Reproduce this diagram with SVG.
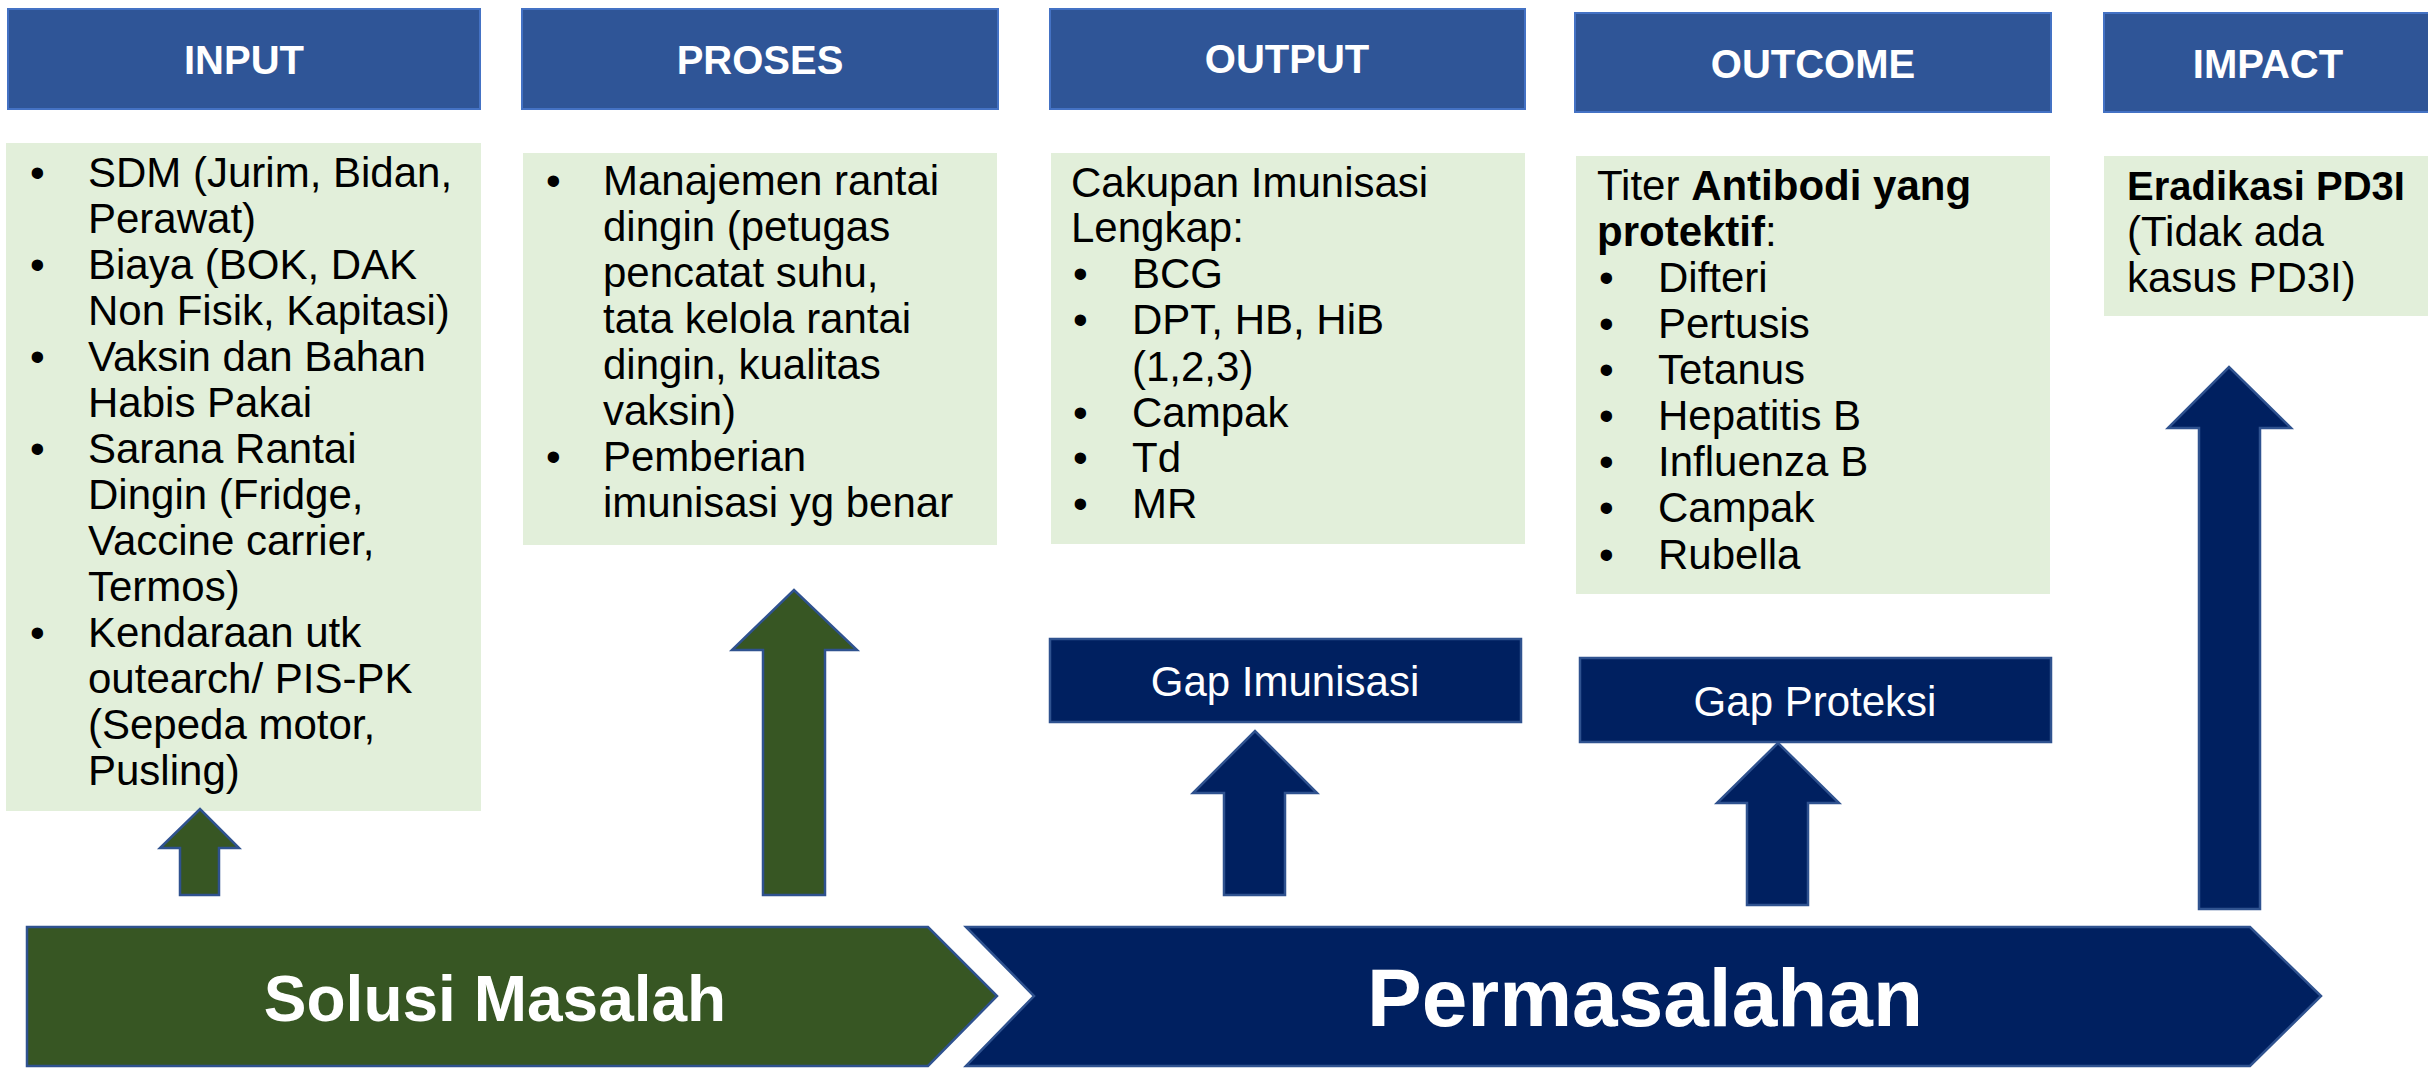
<svg xmlns="http://www.w3.org/2000/svg" width="2428" height="1074" viewBox="0 0 2428 1074">
<style>
.hdr{fill:#2F5597;stroke:#4472C4;stroke-width:2}
.hdrt{font-family:"Liberation Sans",Arial,sans-serif;font-weight:bold;font-size:40px;fill:#fff;text-anchor:middle}
.box{fill:#E2EFDA}
.t{font-family:"Liberation Sans",Arial,sans-serif;font-size:42px;fill:#000}
.b{font-weight:bold}
.navy{fill:#002060;stroke:#2F528F;stroke-width:2.5}
.green{fill:#375623;stroke:#2F528F;stroke-width:2.5}
.gapt{font-family:"Liberation Sans",Arial,sans-serif;font-size:42px;fill:#fff;text-anchor:middle}
.big{font-family:"Liberation Sans",Arial,sans-serif;font-weight:bold;fill:#fff;text-anchor:middle}
</style>

<g id="input-header"><rect class="hdr" x="8" y="9" width="472" height="100"/><text class="hdrt" x="244" y="74">INPUT</text></g>
<g id="proses-header"><rect class="hdr" x="522" y="9" width="476" height="100"/><text class="hdrt" x="760" y="74">PROSES</text></g>
<g id="output-header"><rect class="hdr" x="1050" y="9" width="475" height="100"/><text class="hdrt" x="1287" y="73">OUTPUT</text></g>
<g id="outcome-header"><rect class="hdr" x="1575" y="13" width="476" height="99"/><text class="hdrt" x="1813" y="78">OUTCOME</text></g>
<g id="impact-header"><rect class="hdr" x="2104" y="13" width="330" height="99"/><text class="hdrt" x="2268" y="78">IMPACT</text></g>

<g id="input-box">
<rect class="box" x="6" y="143" width="475" height="668"/>
<text class="t">
<tspan x="30" y="187">•</tspan><tspan x="88" y="187">SDM (Jurim, Bidan,</tspan>
<tspan x="88" y="233">Perawat)</tspan>
<tspan x="30" y="279">•</tspan><tspan x="88" y="279">Biaya (BOK, DAK</tspan>
<tspan x="88" y="325">Non Fisik, Kapitasi)</tspan>
<tspan x="30" y="371">•</tspan><tspan x="88" y="371">Vaksin dan Bahan</tspan>
<tspan x="88" y="417">Habis Pakai</tspan>
<tspan x="30" y="463">•</tspan><tspan x="88" y="463">Sarana Rantai</tspan>
<tspan x="88" y="509">Dingin (Fridge,</tspan>
<tspan x="88" y="555">Vaccine carrier,</tspan>
<tspan x="88" y="601">Termos)</tspan>
<tspan x="30" y="647">•</tspan><tspan x="88" y="647">Kendaraan utk</tspan>
<tspan x="88" y="693">outearch/ PIS-PK</tspan>
<tspan x="88" y="739">(Sepeda motor,</tspan>
<tspan x="88" y="785">Pusling)</tspan>
</text>
</g>

<g id="proses-box">
<rect class="box" x="523" y="153" width="474" height="392"/>
<text class="t">
<tspan x="546" y="195">•</tspan><tspan x="603" y="195">Manajemen rantai</tspan>
<tspan x="603" y="241">dingin (petugas</tspan>
<tspan x="603" y="287">pencatat suhu,</tspan>
<tspan x="603" y="333">tata kelola rantai</tspan>
<tspan x="603" y="379">dingin, kualitas</tspan>
<tspan x="603" y="425">vaksin)</tspan>
<tspan x="546" y="471">•</tspan><tspan x="603" y="471">Pemberian</tspan>
<tspan x="603" y="517">imunisasi yg benar</tspan>
</text>
</g>

<g id="output-box">
<rect class="box" x="1051" y="153" width="474" height="391"/>
<text class="t">
<tspan x="1071" y="197">Cakupan Imunisasi</tspan>
<tspan x="1071" y="242">Lengkap:</tspan>
<tspan x="1073" y="288">•</tspan><tspan x="1132" y="288">BCG</tspan>
<tspan x="1073" y="334">•</tspan><tspan x="1132" y="334">DPT, HB, HiB</tspan>
<tspan x="1132" y="381">(1,2,3)</tspan>
<tspan x="1073" y="427">•</tspan><tspan x="1132" y="427">Campak</tspan>
<tspan x="1073" y="472">•</tspan><tspan x="1132" y="472">Td</tspan>
<tspan x="1073" y="518">•</tspan><tspan x="1132" y="518">MR</tspan>
</text>
</g>

<g id="outcome-box">
<rect class="box" x="1576" y="156" width="474" height="438"/>
<text class="t">
<tspan x="1597" y="200">Titer </tspan><tspan class="b">Antibodi yang</tspan>
<tspan x="1597" y="246" class="b">protektif</tspan><tspan>:</tspan>
<tspan x="1599" y="292">•</tspan><tspan x="1658" y="292">Difteri</tspan>
<tspan x="1599" y="338">•</tspan><tspan x="1658" y="338">Pertusis</tspan>
<tspan x="1599" y="384">•</tspan><tspan x="1658" y="384">Tetanus</tspan>
<tspan x="1599" y="430">•</tspan><tspan x="1658" y="430">Hepatitis B</tspan>
<tspan x="1599" y="476">•</tspan><tspan x="1658" y="476">Influenza B</tspan>
<tspan x="1599" y="522">•</tspan><tspan x="1658" y="522">Campak</tspan>
<tspan x="1599" y="569">•</tspan><tspan x="1658" y="569">Rubella</tspan>
</text>
</g>

<g id="impact-box">
<rect class="box" x="2104" y="156" width="330" height="160"/>
<text class="t">
<tspan x="2127" y="200" class="b" font-size="40">Eradikasi PD3I</tspan>
<tspan x="2127" y="246">(Tidak ada</tspan>
<tspan x="2127" y="292">kasus PD3I)</tspan>
</text>
</g>

<g id="gap-imunisasi">
<rect class="navy" x="1050" y="639" width="471" height="83"/>
<text class="gapt" x="1285" y="696">Gap Imunisasi</text>
</g>

<g id="gap-proteksi">
<rect class="navy" x="1580" y="658" width="471" height="84"/>
<text class="gapt" x="1815" y="716">Gap Proteksi</text>
</g>

<g id="solusi-masalah">
<polygon class="green" points="27,927 928,927 997,996 928,1066 27,1066"/>
<text class="big" x="495" y="1021" font-size="64">Solusi Masalah</text>
</g>

<g id="permasalahan">
<polygon class="navy" points="966,927 2250,927 2321,996 2250,1066 966,1066 1034,996"/>
<text class="big" x="1645" y="1026" font-size="82">Permasalahan</text>
</g>

<g id="connectors">
<polygon class="green" points="180,895 180,848 160,848 200,809 239,848 219,848 219,895"/>
<polygon class="green" points="763,895 763,650 732,650 794,590 857,650 825,650 825,895"/>
<polygon class="navy" points="1224,895 1224,793 1193,793 1255,731 1317,793 1285,793 1285,895"/>
<polygon class="navy" points="1747,905 1747,803 1717,803 1778,743 1839,803 1808,803 1808,905"/>
<polygon class="navy" points="2199,909 2199,428 2168,428 2229,367 2291,428 2260,428 2260,909"/>
</g>
</svg>
